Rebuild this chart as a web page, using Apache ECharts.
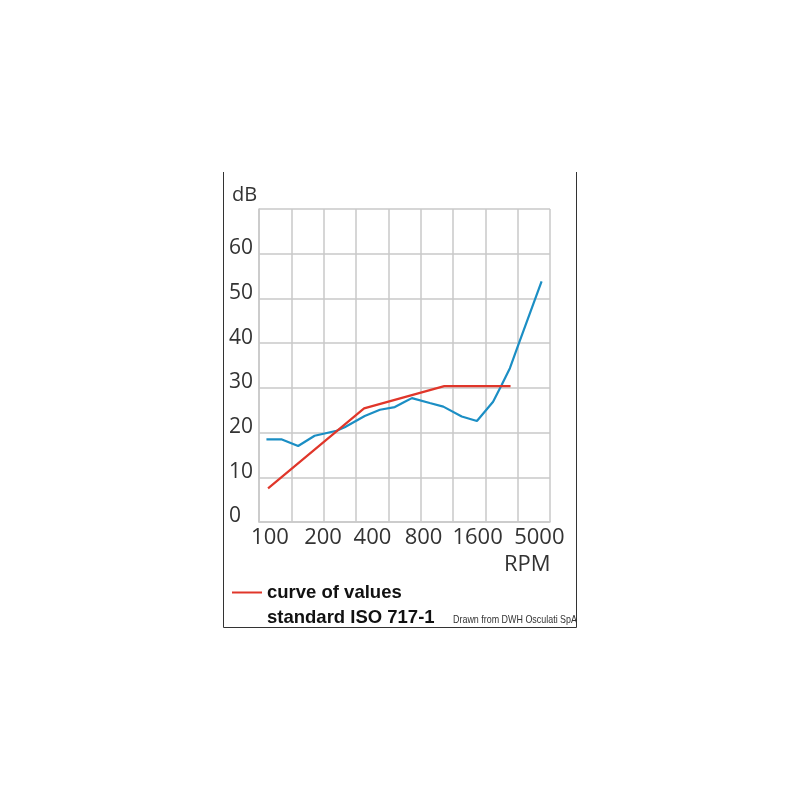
<!DOCTYPE html>
<html>
<head>
<meta charset="utf-8">
<script src="https://cdn.jsdelivr.net/npm/echarts@6/dist/echarts.min.js"></script>
<style>
  html, body { margin: 0; padding: 0; background: #fff; }
  #chart { width: 800px; height: 800px; }
</style>
</head>
<body>
<div id="chart"></div>
<script>
// x is measured in grid columns (0..9), the chart's RPM scale is not regular
const measuredX = [0.23, 0.69, 1.21, 1.72, 2.03, 2.40, 2.65, 3.27, 3.74, 4.20, 4.51, 4.73, 5.28, 5.70, 6.27, 6.74, 7.24, 7.50, 7.76, 8.02, 8.74]
const measuredDb = [18.5, 18.5, 17.0, 19.3, 19.8, 20.4, 21.2, 23.7, 25.1, 25.7, 26.9, 27.7, 26.6, 25.8, 23.6, 22.6, 26.9, 30.6, 34.4, 39.6, 53.8]

const isoX = [0.28, 3.25, 5.73, 7.78]
const isoDb = [7.5, 25.4, 30.4, 30.4]

const rpmLabels = ['100', '200', '400', '800', '1600', '5000']
const rpmLabelPos = [0.34, 1.98, 3.51, 5.09, 6.76, 8.67]

const isoName = 'curve of values\nstandard ISO 717-1'
const gridColor = '#c9c9c9'
const textColor = '#333'
const sansFont = "'Open Sans', 'Noto Sans', sans-serif"

const zip = (xs, ys) => xs.map((x, i) => [x, ys[i]])

const chart = echarts.init(document.getElementById('chart'))
chart.setOption({
  animation: false,
  backgroundColor: '#fff',
  grid: { left: 259, top: 209, width: 291, height: 313, containLabel: false },
  legend: {
    data: [isoName],
    left: 232,
    top: 555,
    padding: 0,
    itemWidth: 30,
    itemHeight: 2,
    itemGap: 7,
    icon: 'rect',
    // empty first line keeps the red stroke level with "curve of values"
    formatter: name => '\n' + name,
    textStyle: {
      fontFamily: "'Liberation Sans', Arial, sans-serif",
      fontWeight: 'bold',
      fontSize: 18.5,
      color: '#111',
      lineHeight: 25
    }
  },
  xAxis: [
    {
      type: 'value',
      min: 0,
      max: 9,
      interval: 1,
      axisLine: { show: true, lineStyle: { color: gridColor, width: 1.5 } },
      axisTick: { show: false },
      axisLabel: { show: false },
      splitLine: { show: true, lineStyle: { color: gridColor, width: 1.5 } }
    },
    {
      type: 'value',
      min: 0,
      max: 9,
      position: 'bottom',
      axisLine: { show: false },
      axisTick: { show: false },
      splitLine: { show: false },
      axisLabel: {
        customValues: rpmLabelPos,
        margin: 5,
        fontFamily: sansFont,
        fontSize: 22,
        color: textColor,
        formatter: v => {
          let best = 0
          rpmLabelPos.forEach((p, i) => {
            if (Math.abs(p - v) < Math.abs(rpmLabelPos[best] - v)) best = i
          })
          return rpmLabels[best]
        }
      }
    }
  ],
  yAxis: {
    type: 'value',
    min: 0,
    max: 70,
    interval: 10,
    axisLine: { show: true, lineStyle: { color: gridColor, width: 1.5 } },
    axisTick: { show: false },
    splitLine: { show: true, lineStyle: { color: gridColor, width: 1.5 } },
    axisLabel: {
      showMaxLabel: false,
      align: 'left',
      verticalAlign: 'bottom',
      lineHeight: 11,
      margin: 30,
      fontFamily: sansFont,
      fontSize: 21,
      color: textColor,
      formatter: v => (v >= 70 ? '' : String(v))
    }
  },
  graphic: [
    {
      type: 'polyline',
      silent: true,
      shape: { points: [[223.5, 172], [223.5, 627.5], [576.5, 627.5], [576.5, 172]] },
      style: { stroke: '#333', lineWidth: 1, fill: null }
    },
    {
      type: 'text',
      left: 232,
      top: 185,
      style: { text: 'dB', font: "20px 'Open Sans', sans-serif", fill: textColor }
    },
    {
      type: 'text',
      left: 504,
      top: 554,
      style: { text: 'RPM', font: "22px 'Open Sans', sans-serif", fill: textColor }
    },
    {
      type: 'text',
      x: 453,
      y: 615,
      scaleX: 0.85,
      style: {
        text: 'Drawn from DWH Osculati SpA',
        font: "10.5px 'Liberation Sans', sans-serif",
        fill: '#333',
        verticalAlign: 'top'
      }
    }
  ],
  series: [
    {
      name: 'measured',
      type: 'line',
      data: zip(measuredX, measuredDb),
      showSymbol: false,
      lineStyle: { color: '#1b8ec4', width: 2.2 },
      itemStyle: { color: '#1b8ec4' },
      z: 3
    },
    {
      name: isoName,
      type: 'line',
      data: zip(isoX, isoDb),
      showSymbol: false,
      lineStyle: { color: '#e0362a', width: 2.2 },
      itemStyle: { color: '#e0362a' },
      z: 4
    }
  ]
})
window.addEventListener('resize', () => chart.resize())
</script>
</body>
</html>
